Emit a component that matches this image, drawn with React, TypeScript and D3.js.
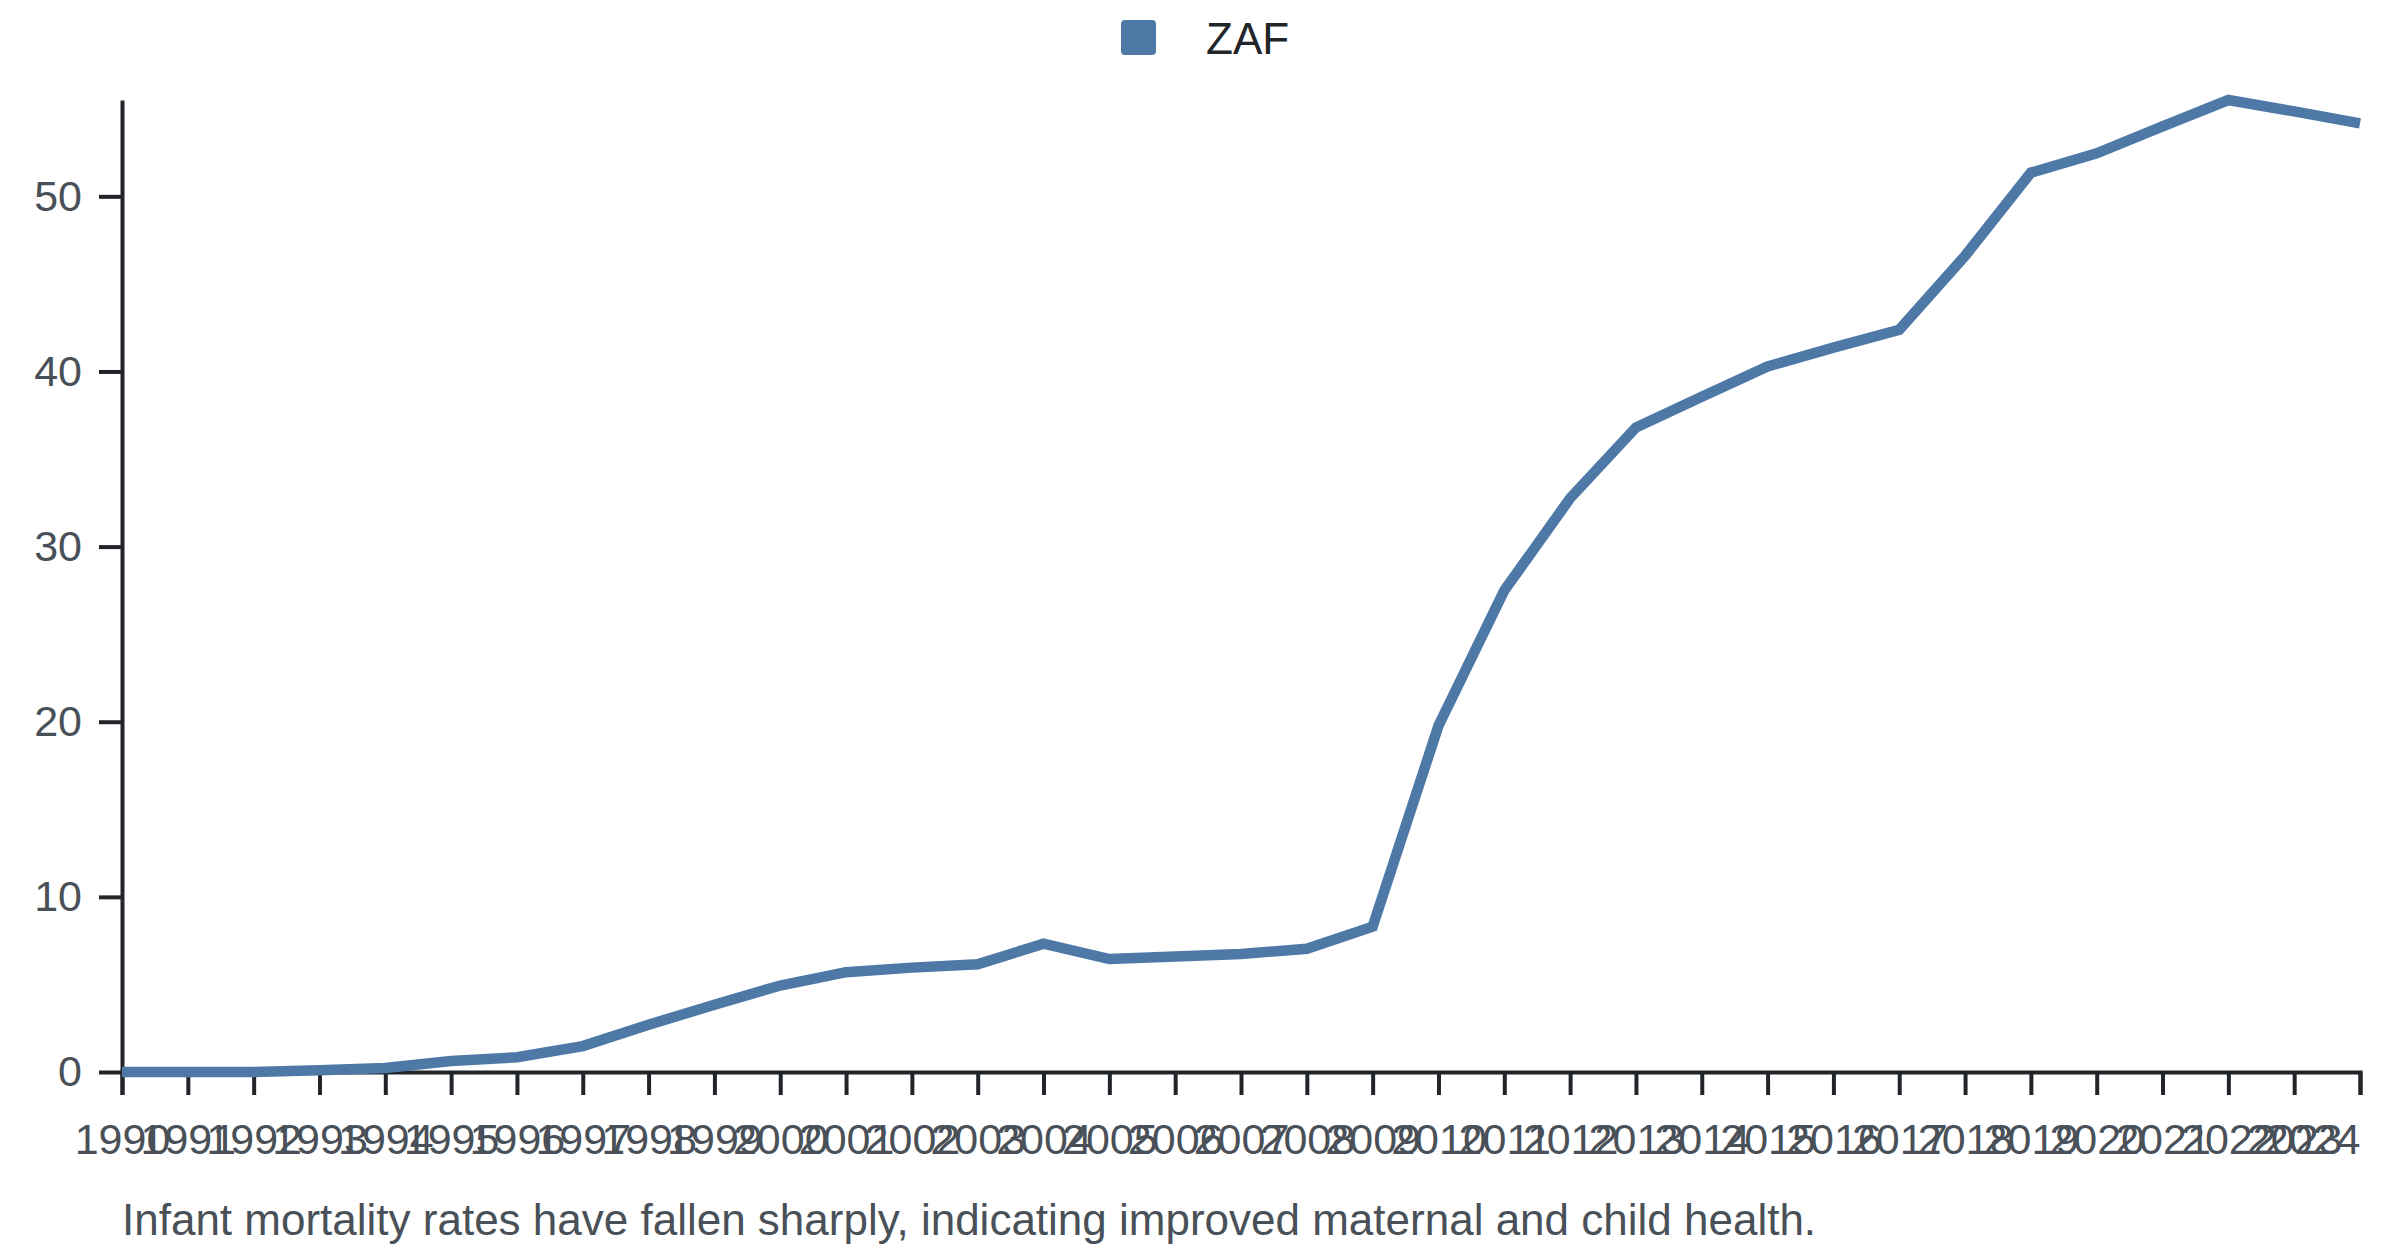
import React, { useEffect, useRef } from 'react';
import * as d3 from 'd3';

const years = d3.range(1990, 2025).map(String);
const zafValues = [
  0, 0, 0, 0.1, 0.23, 0.63, 0.84, 1.48, 2.7, 3.84,
  4.94, 5.7, 5.96, 6.15, 7.33, 6.45, 6.6, 6.74, 7.04, 8.3,
  19.77, 27.49, 32.76, 36.8, 38.55, 40.29, 41.36, 42.38, 46.6, 51.35,
  52.46, 54.0, 55.5, 54.85, 54.17,
];
const yTicks = [0, 10, 20, 30, 40, 50];
const seriesName = 'ZAF';
const caption = 'Infant mortality rates have fallen sharply, indicating improved maternal and child health.';

const W = 2400;
const H = 1256;
const margin = { top: 100, right: 40, bottom: 184, left: 122 };
const lineColor = '#4e79a7';
const axisColor = '#212529';
const labelColor = '#495057';
const font = '"Liberation Sans", Arial, Helvetica, sans-serif';

const App = () => {
  const ref = useRef<SVGSVGElement | null>(null);

  useEffect(() => {
    if (!ref.current) return;
    const svg = d3.select(ref.current);
    svg.selectAll('*').remove();

    const x = d3.scalePoint()
      .domain(years)
      .range([margin.left, W - margin.right]);

    const y = d3.scaleLinear()
      .domain([0, d3.max(zafValues)!])
      .range([H - margin.bottom, margin.top]);

    // legend
    const legend = svg.append('g');
    legend.append('rect')
      .attr('x', 1121).attr('y', 20)
      .attr('width', 35).attr('height', 35)
      .attr('rx', 4)
      .attr('fill', lineColor);
    legend.append('text')
      .attr('x', 1206).attr('y', 38)
      .attr('dominant-baseline', 'central')
      .attr('font-size', 44)
      .attr('font-family', font)
      .attr('fill', axisColor)
      .text(seriesName);

    // x axis
    const xAxis = d3.axisBottom(x).tickSize(23).tickPadding(28);
    const gx = svg.append('g')
      .attr('transform', `translate(0, ${H - margin.bottom})`)
      .call(xAxis);

    gx.selectAll('text')
      .attr('font-size', 43)
      .attr('font-family', font)
      .attr('fill', labelColor)
      .attr('dy', '0.73em');
    // last label is pulled inside the chart edge
    gx.selectAll('.tick:last-of-type text').attr('text-anchor', 'end');

    // y axis
    const yAxis = d3.axisLeft(y).tickValues(yTicks).tickSize(23).tickSizeOuter(0).tickPadding(17);
    const gy = svg.append('g')
      .attr('transform', `translate(${margin.left}, 0)`)
      .call(yAxis);
    gy.selectAll('text')
      .attr('font-size', 43)
      .attr('font-family', font)
      .attr('fill', labelColor);

    svg.selectAll('.domain, .tick line')
      .attr('stroke', axisColor)
      .attr('stroke-width', 4);

    // line
    const line = d3.line<number>()
      .x((_, i) => x(years[i])!)
      .y((d) => y(d));

    svg.append('path')
      .datum(zafValues)
      .attr('d', line)
      .attr('fill', 'none')
      .attr('stroke', lineColor)
      .attr('stroke-width', 10.5);

    // caption
    svg.append('text')
      .attr('x', margin.left)
      .attr('y', 1235)
      .attr('font-size', 44)
      .attr('font-family', font)
      .attr('fill', labelColor)
      .text(caption);
  }, []);

  return (
    <div style={{ position: 'absolute', left: 0, top: 0 }}>
      <svg ref={ref} width={W} height={H} style={{ display: 'block', background: '#fff' }} />
    </div>
  );
};

export default App;
